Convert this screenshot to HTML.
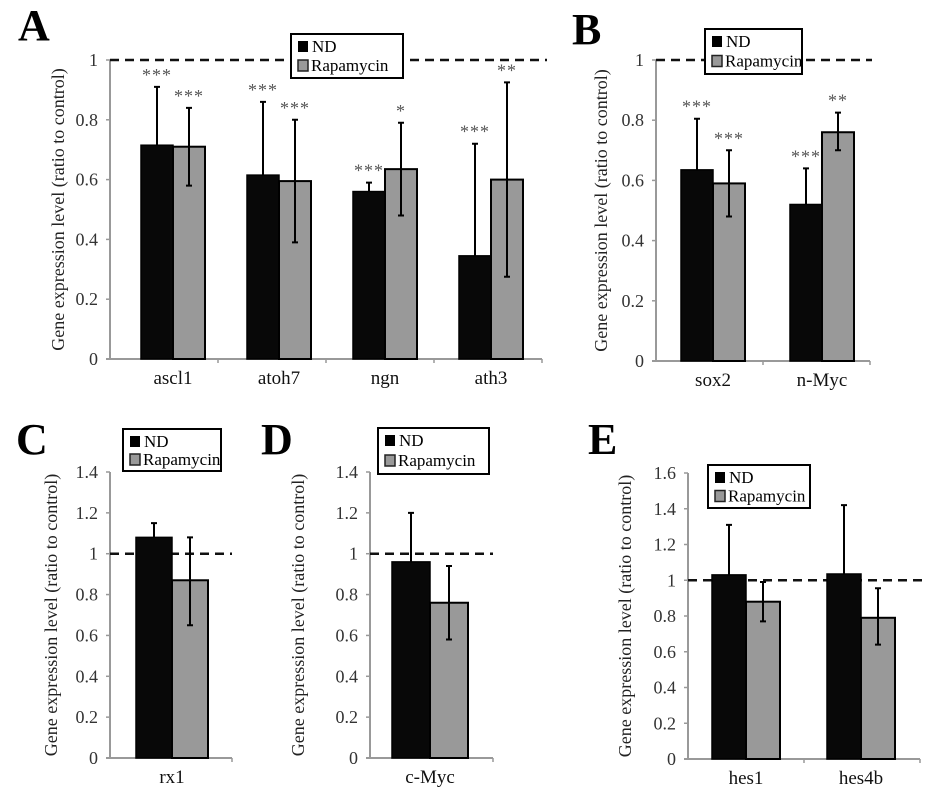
<!DOCTYPE html>
<html><head><meta charset="utf-8"><style>
body{margin:0;background:#fff}
svg{display:block;font-family:"Liberation Serif",serif}
</style></head><body>
<svg id="fig" width="950" height="796" viewBox="0 0 950 796"></svg>
<script>
// Panel A
const catsA=["ascl1","atoh7","ngn","ath3"];
const ndA=[0.715,0.615,0.56,0.345];
const ndErrA=[0.91,0.86,0.59,0.72];
const rapA=[0.71,0.595,0.635,0.6];
const rapHiA=[0.84,0.80,0.79,0.925];
const rapLoA=[0.58,0.39,0.48,0.275];
const starsNdA=["***","***","***","***"];
const starsRapA=["***","***","*","**"];
const ticksA=[0,0.2,0.4,0.6,0.8,1];
// Panel B
const catsB=["sox2","n-Myc"];
const ndB=[0.635,0.52];
const ndErrB=[0.805,0.64];
const rapB=[0.59,0.76];
const rapHiB=[0.70,0.825];
const rapLoB=[0.48,0.70];
const starsNdB=["***","***"];
const starsRapB=["***","**"];
const ticksB=[0,0.2,0.4,0.6,0.8,1];
// Panel C
const catsC=["rx1"];
const ndC=[1.08];const ndErrC=[1.15];
const rapC=[0.87];const rapHiC=[1.08];const rapLoC=[0.65];
const ticksC=[0,0.2,0.4,0.6,0.8,1,1.2,1.4];
// Panel D
const catsD=["c-Myc"];
const ndD=[0.96];const ndErrD=[1.2];
const rapD=[0.76];const rapHiD=[0.94];const rapLoD=[0.58];
const ticksD=[0,0.2,0.4,0.6,0.8,1,1.2,1.4];
// Panel E
const catsE=["hes1","hes4b"];
const ndE=[1.03,1.035];const ndErrE=[1.31,1.42];
const rapE=[0.88,0.79];const rapHiE=[0.99,0.955];const rapLoE=[0.77,0.64];
const ticksE=[0,0.2,0.4,0.6,0.8,1,1.2,1.4,1.6];

const svg=document.getElementById('fig');
const NS='http://www.w3.org/2000/svg';
function mk(tag,attrs,parent,text){const e=document.createElementNS(NS,tag);for(const k in attrs)e.setAttribute(k,attrs[k]);if(text!==undefined)e.textContent=text;(parent||svg).appendChild(e);return e;}

function panel(p){
  const g=mk('g',{});
  
  
  const y=v=>p.y0-(v/p.vmax)*(p.y0-p.ytop);
  const cw=(p.x1-p.ax)/p.cats.length;
  const cx=i=>p.cx0+i*p.cstep;
  const lab=mk('text',{x:p.lx,y:p.ly,'font-size':44,'font-weight':'bold'},g,p.id);
  
  
  const ya=mk('line',{x1:p.ax,y1:p.ytop,x2:p.ax,y2:p.y0,stroke:'#999','stroke-width':2},g);
  
  const xa=mk('line',{x1:p.ax-4,y1:p.y0,x2:p.x1,y2:p.y0,stroke:'#999','stroke-width':2},g);
  
  p.ticks.forEach(t=>{
    mk('line',{x1:p.ax-4,y1:y(t),x2:p.ax,y2:y(t),stroke:'#999','stroke-width':1.5},g);
    const tl=mk('text',{x:p.ax-12,y:y(t)+6,'font-size':18,'text-anchor':'end',fill:'#333'},g,String(t));
    
  });
  for(let i=1;i<p.cats.length;i++){const xx=p.ax+i*cw;mk('line',{x1:xx,y1:p.y0,x2:xx,y2:p.y0+4,stroke:'#999','stroke-width':1.5},g);}
  mk('line',{x1:p.x1,y1:p.y0,x2:p.x1,y2:p.y0+4,stroke:'#999','stroke-width':1.5},g);
  const yt=mk('text',{x:0,y:0,'font-size':18,'text-anchor':'middle',fill:'#222',transform:`translate(${p.tx},${(p.ytop+p.y0)/2}) rotate(-90)`},g,'Gene expression level (ratio to control)');
  
  const dl=mk('line',{x1:p.ax,y1:y(1),x2:p.dx2,y2:y(1),stroke:'#111','stroke-width':2.5,'stroke-dasharray':'9,6'},g);
  
  const bw=p.bw;
  p.cats.forEach((c,i)=>{
    const c0=cx(i);
    const b1=mk('rect',{x:c0-bw,y:y(p.nd[i]),width:bw,height:p.y0-y(p.nd[i]),fill:'#080808',stroke:'#000','stroke-width':1.5},g);
    
    const b2=mk('rect',{x:c0,y:y(p.rap[i]),width:bw,height:p.y0-y(p.rap[i]),fill:'#999',stroke:'#000','stroke-width':2},g);
    
    const e1x=c0-bw/2;
    const e1=mk('path',{d:`M${e1x},${y(p.nd[i])}V${y(p.ndErr[i])}M${e1x-3},${y(p.ndErr[i])}H${e1x+3}`,stroke:'#000','stroke-width':2,fill:'none'},g);
    
    const e2x=c0+bw/2;
    const e2=mk('path',{d:`M${e2x},${y(p.rapLo[i])}V${y(p.rapHi[i])}M${e2x-3},${y(p.rapHi[i])}H${e2x+3}M${e2x-3},${y(p.rapLo[i])}H${e2x+3}`,stroke:'#000','stroke-width':2,fill:'none'},g);
    
    if(p.sNd){
      const s1=mk('text',{x:e1x,y:y(p.ndErr[i])-6,'font-size':18,'text-anchor':'middle',fill:'#555','letter-spacing':1},g,p.sNd[i]);
      
      const s2=mk('text',{x:e2x,y:y(p.rapHi[i])-6,'font-size':18,'text-anchor':'middle',fill:'#555','letter-spacing':1},g,p.sRap[i]);
      
    }
    const xl=mk('text',{x:c0,y:p.y0+25,'font-size':19,'text-anchor':'middle',fill:'#111'},g,c);
    
  });
  const L=p.leg;
  const lg=mk('g',{},g);
  
  mk('rect',{x:L[0],y:L[1],width:L[2],height:L[3],fill:'#fff',stroke:'#000','stroke-width':2},lg);
  mk('rect',{x:L[0]+7,y:L[1]+7,width:10,height:11,fill:'#000'},lg);
  mk('rect',{x:L[0]+7,y:L[1]+L[3]/2+4,width:10,height:11,fill:'#999',stroke:'#222','stroke-width':1.5},lg);
  const t1=mk('text',{x:L[0]+21,y:L[1]+18,'font-size':17},lg,'ND');
  
  const t2=mk('text',{x:L[0]+20,y:L[1]+L[3]/2+15,'font-size':17},lg,'Rapamycin');
  
}

panel({id:'A',lx:18,ly:40,ax:110,x1:542,y0:359,ytop:60,vmax:1,ticks:ticksA,cats:catsA,cx0:173,cstep:106,bw:32,
  nd:ndA,ndErr:ndErrA,rap:rapA,rapHi:rapHiA,rapLo:rapLoA,sNd:starsNdA,sRap:starsRapA,tx:64,dx2:547,leg:[291,34,112,44]});
panel({id:'B',lx:572,ly:44,ax:656,x1:870,y0:361,ytop:60,vmax:1,ticks:ticksB,cats:catsB,cx0:713,cstep:109,bw:32,
  nd:ndB,ndErr:ndErrB,rap:rapB,rapHi:rapHiB,rapLo:rapLoB,sNd:starsNdB,sRap:starsRapB,tx:607,dx2:872,leg:[705,29,97,45]});
panel({id:'C',lx:16,ly:454,ax:110,x1:232,y0:758,ytop:472,vmax:1.4,ticks:ticksC,cats:catsC,cx0:172,cstep:0,bw:36,
  nd:ndC,ndErr:ndErrC,rap:rapC,rapHi:rapHiC,rapLo:rapLoC,tx:57,dx2:232,leg:[123,429,98,42]});
panel({id:'D',lx:261,ly:454,ax:370,x1:493,y0:758,ytop:472,vmax:1.4,ticks:ticksD,cats:catsD,cx0:430,cstep:0,bw:38,
  nd:ndD,ndErr:ndErrD,rap:rapD,rapHi:rapHiD,rapLo:rapLoD,tx:304,dx2:493,leg:[378,428,111,46]});
panel({id:'E',lx:588,ly:454,ax:688,x1:920,y0:759,ytop:473,vmax:1.6,ticks:ticksE,cats:catsE,cx0:746,cstep:115,bw:34,
  nd:ndE,ndErr:ndErrE,rap:rapE,rapHi:rapHiE,rapLo:rapLoE,tx:631,dx2:922,leg:[708,465,102,43]});
</script>
</body></html>
